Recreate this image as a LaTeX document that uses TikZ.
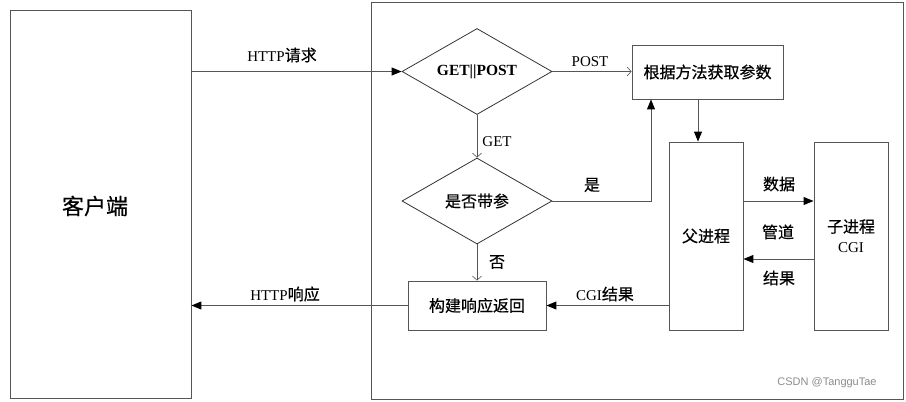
\documentclass[tikz,border=0pt]{standalone}
\usepackage{fontspec}
\setmainfont{Liberation Serif}
\newfontfamily\cjk[FakeBold=0.5]{Noto Sans CJK SC}
\newfontfamily\wmfont{Liberation Sans}
\usetikzlibrary{arrows.meta,shapes.geometric,calc}
\definecolor{lc}{RGB}{85,85,85}
\begin{document}
\begin{tikzpicture}[x=1pt,y=-1pt,
  every node/.style={inner sep=0pt, font=\fontsize{15}{17}\selectfont},
  box/.style={draw=lc, line width=0.9pt, rectangle},
  dia/.style={draw=black!80, line width=0.8pt, diamond, aspect=1.75, minimum width=150pt, minimum height=86pt},
  conn/.style={draw=lc, line width=1pt},
  fa/.style={conn, -{Triangle[length=10pt,width=8pt,color=black]}},
  oa/.style={conn, -{Straight Barb[length=4pt,width=9pt,line width=0.6pt]}},
  lab/.style={font=\fontsize{15}{17}\selectfont},
  cjklab/.style={font=\cjk\fontsize{16}{18}\selectfont}
]
\useasboundingbox (0,0) rectangle (906,402);

% frames
\node[box, minimum width=181pt, minimum height=388pt] (client) at (100.5,204) {};
\node[font=\cjk\fontsize{22}{24}\selectfont] (clientlab) at (95,206) {客户端};
\node[box, minimum width=532pt, minimum height=397pt] (frame) at (637,200.5) {};

% decision nodes
\node[dia] (d1) at (477,71.5) {\fontsize{15.5}{17}\selectfont\textbf{GET||POST}};
\node[dia, cjklab] (d2) at (477,201) {是否带参};

% boxes
\node[box, minimum width=151pt, minimum height=54pt, cjklab] (params) at (707.5,72) {根据方法获取参数};
\node[box, minimum width=138pt, minimum height=49pt, cjklab] (build) at (477,305.5) {构建响应返回};
\node[box, minimum width=74pt, minimum height=188pt, cjklab] (parent) at (706,236) {父进程};
\node[box, minimum width=74pt, minimum height=188pt, align=center] (child) at (851,236) {{\cjk\fontsize{16}{18}\selectfont 子进程}\\[3pt]CGI};

% helper coordinates
\coordinate (yup) at (0,201);
\coordinate (ydown) at (0,259);
\coordinate (xyes) at (651,0);
\coordinate (xdown) at (698,0);

% connectors
\draw[fa] (d1.west -| client.east) -- (d1.west);
\draw[oa] (d1.east) -- (d1.east -| params.west);
\draw[oa] (d1.south) -- (d2.north);
\draw[fa] (d2.east) -| (xyes |- params.south);
\draw[fa] (xdown |- params.south) -- (xdown |- parent.north);
\draw[oa] (d2.south) -- (build.north);
\draw[fa] (build.east -| parent.west) -- (build.east);
\draw[fa] (build.west) -- (build.west -| client.east);
\draw[fa] (parent.east |- yup) -- (child.west |- yup);
\draw[fa] (child.west |- ydown) -- (parent.east |- ydown);

% labels
\node[lab] (lhttpreq) at (282,55) {HTTP{\cjk\fontsize{16}{18}\selectfont 请求}};
\node[lab] (lpost) at (590,62) {POST};
\node[lab] (lget) at (497,142) {GET};
\node[cjklab] (lyes) at (592,185) {是};
\node[cjklab] (lno) at (497,262) {否};
\node[lab] (lcgires) at (605,294) {CGI{\cjk\fontsize{16}{18}\selectfont 结果}};
\node[lab] (lhttpres) at (285,294) {HTTP{\cjk\fontsize{16}{18}\selectfont 响应}};
\node[cjklab] (ldata) at (779,184) {数据};
\node[cjklab] (lpipe) at (778,232) {管道};
\node[cjklab] (lres) at (779,278) {结果};
\node[font=\wmfont\fontsize{11}{13}\selectfont, text=black!45] (wm) at (827,383) {CSDN @TangguTae};
\end{tikzpicture}
\end{document}
